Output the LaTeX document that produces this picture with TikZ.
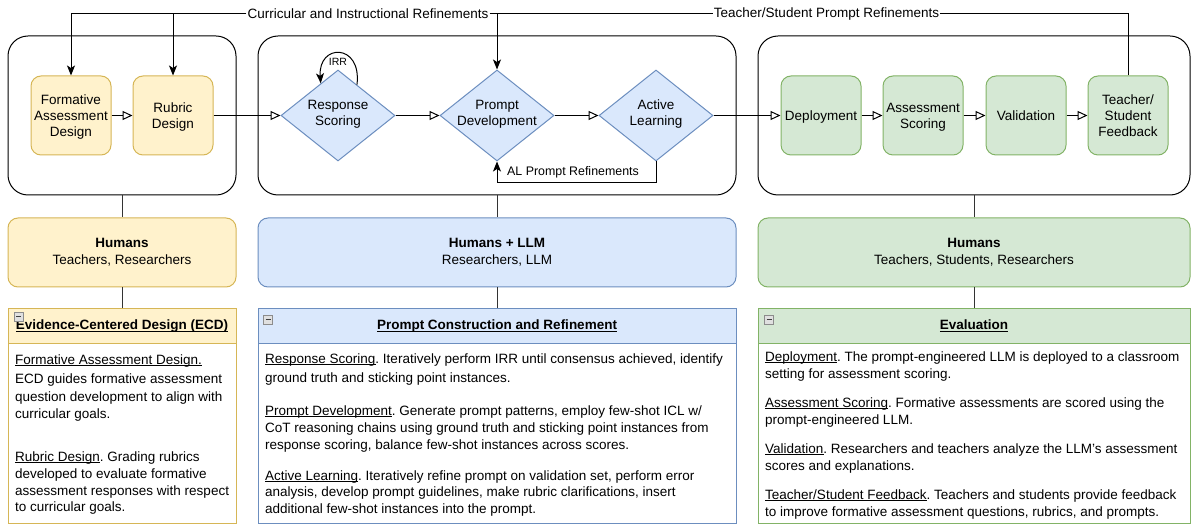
\documentclass[tikz,border=0pt]{standalone}
\usepackage{fontspec}
\setmainfont{Liberation Sans}
\usetikzlibrary{shapes.geometric,arrows.meta,calc}
\definecolor{yfill}{HTML}{FFF2CC}\definecolor{ydraw}{HTML}{D6B656}
\definecolor{bfill}{HTML}{DAE8FC}\definecolor{bdraw}{HTML}{6C8EBF}
\definecolor{gfill}{HTML}{D5E8D4}\definecolor{gdraw}{HTML}{82B366}
\newcommand\myul[1]{\setbox0\hbox{#1}\rlap{\rule[-1.9pt]{\wd0}{0.6pt}}\box0}
\newcommand\myulb[1]{\setbox0\hbox{#1}\rlap{\rule[-2.2pt]{\wd0}{0.9pt}}\box0}
\frenchspacing
\begin{document}
\begin{tikzpicture}[x=1pt,y=-1pt,
  font=\fontsize{13.5}{16}\selectfont,
  container/.style={draw=black, line width=1pt, rounded corners=20pt, inner sep=0pt},
  ybox/.style={draw=ydraw, fill=yfill, rounded corners=10pt, minimum width=80pt, minimum height=79pt, align=center, inner sep=0pt, line width=1pt, text depth=0pt},
  gbox/.style={draw=gdraw, fill=gfill, rounded corners=10pt, minimum width=80pt, minimum height=79pt, align=center, inner sep=0pt, line width=1pt, text depth=0pt},
  dshape/.style={diamond, draw=bdraw, fill=bfill, minimum width=114pt, minimum height=91pt, inner sep=0pt, line width=1pt},
  dlabel/.style={align=center, inner sep=0pt},
  rolebox/.style={rounded corners=10pt, minimum height=69pt, align=center, inner sep=0pt, line width=1pt, font=\fontsize{13.5}{17}\selectfont},
  detail/.style={draw, fill=white, minimum height=214pt, inner sep=0pt, line width=1pt},
  dhead/.style={draw, minimum height=34pt, inner sep=0pt, line width=1pt},
  bodyline/.style={anchor=base west, inner sep=0pt},
  icon/.style={draw=black!45, fill=black!12, minimum width=9pt, minimum height=9pt, inner sep=0pt,
    path picture={\draw[black!75, line width=1pt] ($(path picture bounding box.west)+(2pt,0)$) -- ($(path picture bounding box.east)+(-2pt,0)$);}},
  openarrow/.style={line width=1pt, -{Triangle[open, length=10pt, width=9pt, fill=white]}},
  fillarrow/.style={line width=1pt, -{Stealth[length=10pt, width=8pt, inset=2.5pt]}},
  plain/.style={line width=1pt},
  vline/.style={line width=1pt, draw=black!80},
  toplabel/.style={inner sep=1pt}
]
\useasboundingbox (0,0) rectangle (1193,526);

% containers
\node[container, minimum width=228pt, minimum height=159pt] (cl) at (122,115.5) {};
\node[container, minimum width=478pt, minimum height=159pt] (cm) at (497,115.5) {};
\node[container, minimum width=432pt, minimum height=159pt] (cr) at (974,115.5) {};

% left steps
\node[ybox] (fad) at (71,115.5) {Formative\\Assessment\\Design};
\node[ybox] (rd) at (173,115.5) {Rubric\\Design};

% diamonds
\node[dshape] (rs) at (338,115.5) {};
\node[dshape] (pd) at (497,115.5) {};
\node[dshape] (al) at (656,115.5) {};
\node[dlabel] (rsT) at (338,114.5) {Response\\Scoring};
\node[dlabel] (pdT) at (497,114.5) {Prompt\\Development};
\node[dlabel] (alT) at (656,114.5) {Active\\Learning};

% right steps
\node[gbox] (dep) at (821,115.5) {Deployment};
\node[gbox] (asc) at (923,115.5) {Assessment\\Scoring};
\node[gbox] (val) at (1026,115.5) {Validation};
\node[gbox] (fb) at (1128,115.5) {Teacher/\\Student\\Feedback};

% flow arrows
\draw[openarrow] (fad.east) -- (rd.west);
\draw[openarrow] (rd.east) -- (rs.west);
\draw[openarrow] (rs.east) -- (pd.west);
\draw[openarrow] (pd.east) -- (al.west);
\draw[openarrow] (al.east) -- (dep.west);
\draw[openarrow] (dep.east) -- (asc.west);
\draw[openarrow] (asc.east) -- (val.west);
\draw[openarrow] (val.east) -- (fb.west);

% IRR loop
\coordinate (irrS) at ($(rs.north)!0.33!(rs.east)$);
\coordinate (irrE) at ($(rs.north)!0.30!(rs.west)$);
\draw[fillarrow] (irrS) .. controls +(5,-42) and +(-3,-40) .. (irrE);
\node[inner sep=0pt, font=\fontsize{10.5}{12}\selectfont] (irr) at (338,62) {IRR};

% AL prompt refinements
\coordinate (alLow) at (656,183);
\draw[fillarrow] (al.south) -- (alLow) -| (pd.south);
\node[inner sep=0pt, font=\fontsize{12.4}{14}\selectfont] (alT2) at (573,172) {AL Prompt Refinements};

% top feedback lines
\node[toplabel] (lc) at (368,14) {Curricular and Instructional Refinements};
\node[toplabel] (lt) at (826.5,14) {Teacher/Student Prompt Refinements};
\draw[fillarrow] (lc.west) -| (fad.north);
\draw[fillarrow] (lc.west -| rd.north) -- (rd.north);
\draw[plain] (lc.east) -- (lt.west);
\draw[fillarrow] (lc.east -| pd.north) -- (pd.north);
\draw[plain] (fb.north) |- (lt.east);

% role boxes
\node[rolebox, draw=ydraw, fill=yfill, minimum width=228pt] (h1) at (122,252.5) {\textbf{Humans}\\Teachers, Researchers};
\node[rolebox, draw=bdraw, fill=bfill, minimum width=478pt] (h2) at (497,252.5) {\textbf{Humans + LLM}\\Researchers, LLM};
\node[rolebox, draw=gdraw, fill=gfill, minimum width=432pt] (h3) at (974,252.5) {\textbf{Humans}\\Teachers, Students, Researchers};

% detail boxes
\node[detail, draw=ydraw, minimum width=228pt] (d1) at (122,416) {};
\node[detail, draw=bdraw, minimum width=478pt] (d2) at (497,416) {};
\node[detail, draw=gdraw, minimum width=432pt] (d3) at (974,416) {};
\node[dhead, draw=ydraw, fill=yfill, minimum width=228pt] (d1h) at (122,326) {\textbf{\myulb{Evidence-Centered Design (ECD)}}};
\node[dhead, draw=bdraw, fill=bfill, minimum width=478pt] (d2h) at (497,326) {\textbf{\myulb{Prompt Construction and Refinement}}};
\node[dhead, draw=gdraw, fill=gfill, minimum width=432pt] (d3h) at (974,326) {\textbf{\myulb{Evaluation}}};
\node[icon] (i1) at (18.5,316.5) {};
\node[icon] (i2) at (268,320) {};
\node[icon] (i3) at (769,320) {};

% vertical connectors
\draw[vline] (cl.south) -- (h1.north);
\draw[vline] (h1.south) -- (d1h.north);
\draw[vline] (cm.south) -- (h2.north);
\draw[vline] (h2.south) -- (d2h.north);
\draw[vline] (cr.south) -- (h3.north);
\draw[vline] (h3.south) -- (d3h.north);

% left body
\node[bodyline] (a1) at (15,364) {\myul{Formative Assessment Design.}};
\node[bodyline] (a2) at (15,383) {ECD guides formative assessment};
\node[bodyline] (a3) at (15,401) {question development to align with};
\node[bodyline] (a4) at (15,418) {curricular goals.};
\node[bodyline] (a5) at (15,461) {\myul{Rubric Design}. Grading rubrics};
\node[bodyline] (a6) at (15,478) {developed to evaluate formative};
\node[bodyline] (a7) at (15,495) {assessment responses with respect};
\node[bodyline] (a8) at (15,511) {to curricular goals.};

% middle body
\node[bodyline] (b1) at (265,363) {\myul{Response Scoring}. Iteratively perform IRR until consensus achieved, identify};
\node[bodyline] (b2) at (265,382) {ground truth and sticking point instances.};
\node[bodyline] (b3) at (265,415) {\myul{Prompt Development}. Generate prompt patterns, employ few-shot ICL w/};
\node[bodyline] (b4) at (265,432) {CoT reasoning chains using ground truth and sticking point instances from};
\node[bodyline] (b5) at (265,449) {response scoring, balance few-shot instances across scores.};
\node[bodyline] (b6) at (265,480) {\myul{Active Learning}. Iteratively refine prompt on validation set, perform error};
\node[bodyline] (b7) at (265,496) {analysis, develop prompt guidelines, make rubric clarifications, insert};
\node[bodyline] (b8) at (265,513) {additional few-shot instances into the prompt.};

% right body
\node[bodyline] (c1) at (765,361) {\myul{Deployment}. The prompt-engineered LLM is deployed to a classroom};
\node[bodyline] (c2) at (765,378) {setting for assessment scoring.};
\node[bodyline] (c3) at (765,407) {\myul{Assessment Scoring}. Formative assessments are scored using the};
\node[bodyline] (c4) at (765,424) {prompt-engineered LLM.};
\node[bodyline] (c5) at (765,453) {\myul{Validation}. Researchers and teachers analyze the LLM's assessment};
\node[bodyline] (c6) at (765,470) {scores and explanations.};
\node[bodyline] (c7) at (765,499) {\myul{Teacher/Student Feedback}. Teachers and students provide feedback};
\node[bodyline] (c8) at (765,516) {to improve formative assessment questions, rubrics, and prompts.};
\end{tikzpicture}
\end{document}
